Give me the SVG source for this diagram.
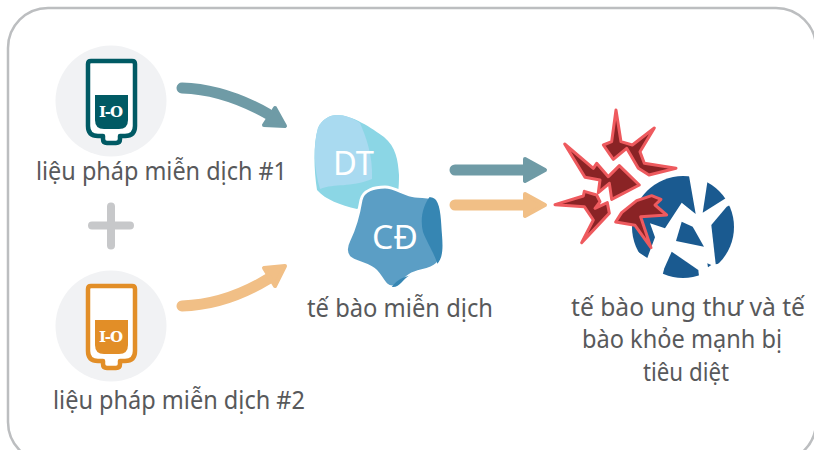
<svg xmlns="http://www.w3.org/2000/svg" width="814" height="450" viewBox="0 0 814 450">
<defs>
<style>
text{font-family:"Noto Sans","Open Sans","Liberation Sans",sans-serif;font-size:25px;fill:#58595b;text-anchor:start}
.in{fill:#fff;font-size:33px}
.io{fill:#fff;font-family:"DejaVu Serif",serif;font-weight:bold;font-size:15px}
.bg{fill:#f1f2f4}
.bag{fill:#fff;stroke-width:4.500;stroke-linejoin:round}
.ln{fill:none;stroke-width:11;stroke-linecap:round}
.hd{stroke-width:4;stroke-linejoin:round}
.teal{stroke:#6f9ba6}.tealf{fill:#6f9ba6;stroke:#6f9ba6}
.or{stroke:#f1bf86}.orf{fill:#f1bf86;stroke:#f1bf86}
.sh{fill:#8a2325;stroke:#ee5a5e;stroke-width:9;stroke-linejoin:round}
</style>
<clipPath id="cc"><circle cx="683" cy="227" r="51"/></clipPath>
<path id="blob" d="M385,187C395,187 405,195 415,196C425,197 433,196 436,200C441,207 441,222 442,235C443,248 443,258 437,264C430,271 418,270 410,275C403,279 400,287 393,287C385,288 382,277 376,271C368,263 355,263 349,257C345,252 346,246 349,240C355,228 359,212 361,200C363,190 375,187 385,187Z"/>
<clipPath id="bc"><use href="#blob"/></clipPath>
<path id="bagp" d="M91,61H132Q135,61 135,64V126Q135,136 125,136H120V139Q120,143 116,143H107Q103,143 103,139V136H98Q88,136 88,126V64Q88,61 91,61Z"/>
<path id="liq" d="M95,95H128V120Q128,129 119,129H104Q95,129 95,120Z"/>
</defs>
<rect x="8" y="8" width="808" height="454" rx="40" fill="#fff" stroke="#bcbec0" stroke-width="2.500"/>
<g id="connectors">
<path class="ln teal" d="M182,88C215,89 245,101 268,114"/>
<path class="hd tealf" d="M275,108L285,126L264,125Z"/>
<path class="ln or" d="M182,306C215,305 245,293 268,279"/>
<path class="hd orf" d="M264,268L285,266L275,286Z"/>
<path class="ln teal" d="M455,170H525"/>
<path class="hd tealf" d="M525,159L545,170L525,181Z"/>
<path class="ln or" d="M455,205H525"/>
<path class="hd orf" d="M525,194L545,205L525,216Z"/>
</g>
<g id="therapy1">
<circle class="bg" cx="111" cy="101" r="55.500"/>
<use href="#bagp" class="bag" stroke="#005a64"/>
<use href="#liq" fill="#005a64"/>
<text class="io" x="99" y="117" textLength="24">I-O</text>
<text x="36" y="180" textLength="251" lengthAdjust="spacingAndGlyphs">liệu pháp miễn dịch #1</text>
</g>
<g id="plus">
<path d="M92,225.500H130M111,206.500V245.500" fill="none" stroke="#c7c8ca" stroke-width="8" stroke-linecap="round"/>
</g>
<g id="therapy2">
<circle class="bg" cx="111" cy="326" r="55.500"/>
<use href="#bagp" class="bag" stroke="#e28e27" transform="translate(0,225)"/>
<use href="#liq" fill="#e28e27" transform="translate(0,225)"/>
<text class="io" x="99" y="342" textLength="24">I-O</text>
<text x="53" y="409" textLength="252" lengthAdjust="spacingAndGlyphs">liệu pháp miễn dịch #2</text>
</g>
<g id="cell-dt">
<path fill="#8bd6e5" d="M337,115C352,115 372,128 384,137C396,147 398,160 399,175C399,195 397,195 396,190L357,209C340,205 326,200 317,190C314,170 313,145 318,128C322,119 330,115 337,115Z"/>
<path fill="#a9daf0" d="M337,115C345,115 353,118 360,123C366,137 373,155 372,179C350,188 335,183 320,189C314,170 313,145 318,128C322,119 330,115 337,115Z"/>
<text class="in" x="333" y="175" textLength="41" lengthAdjust="spacingAndGlyphs">DT</text>
</g>
<g id="cell-cd">
<use href="#blob" fill="#5b9ec5" stroke="#fff" stroke-width="3"/>
<g clip-path="url(#bc)" fill="#3686b3">
<path d="M432,194C422,205 420,220 423,232C428,245 434,252 438,266L450,270V190Z"/>
<path d="M390,290C395,280 405,275 417,275L405,295Z"/>
</g>
<text class="in" x="372" y="249" textLength="46" lengthAdjust="spacingAndGlyphs">CĐ</text>
</g>
<g id="destroyed">
<g clip-path="url(#cc)" fill="#1a5a90">
<polygon points="688,170 695.700,214 681.700,202.700 665,228.300 650,223.300 655,237.300 647.300,258 620,240 640,170"/>
<polygon points="708.300,176 730,170 725.700,198.300 702.700,212.700"/>
<polygon points="726.700,206.700 711.300,225 715.700,264.300 740,260 740,200"/>
<polygon points="681.700,221.700 692.700,226.700 704,246.700 676,241"/>
<polygon points="671.700,251.700 698.300,270 700,285 660,285 664.300,268.300"/>
</g>
<polygon fill="#1a5a90" points="707.300,263.300 711.300,265 708,267.300"/>
<g transform="translate(550,100) scale(.3333)">
<polygon class="sh" points="198,30 213,125 247,135 313,84 270,155 283,190 378,205 297,225 265,205 230,145 190,178 160,135 185,125"/>
<polygon class="sh" points="44,132 130,205 140,190 175,230 208,197 268,255 185,298 178,250 145,278 150,240 105,232"/>
<polygon class="sh" points="15,314 100,288 103,274 140,285 150,305 135,325 172,308 178,340 95,428 130,360 103,320"/>
<polygon class="sh" points="197,366 215,338 260,302 305,287 333,298 315,315 350,345 272,350 303,443 255,376"/>
</g>
</g>
<g id="labels">
<text x="307" y="317" textLength="186" lengthAdjust="spacingAndGlyphs">tế bào miễn dịch</text>
<text x="571" y="316" textLength="234" lengthAdjust="spacingAndGlyphs">tế bào ung thư và tế</text>
<text x="582" y="348" textLength="200" lengthAdjust="spacingAndGlyphs">bào khỏe mạnh bị</text>
<text x="643" y="381" textLength="86" lengthAdjust="spacingAndGlyphs">tiêu diệt</text>
</g>
</svg>
